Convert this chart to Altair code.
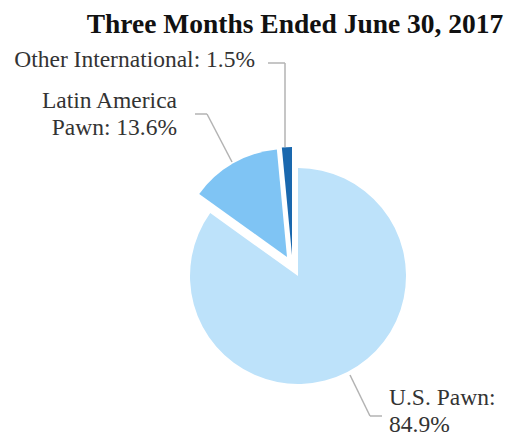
import math
import altair as alt
import pandas as pd

# ---- data ----
categories = ["U.S. Pawn", "Latin America Pawn", "Other International"]
label_names = ["U.S. Pawn", "Latin America\nPawn", "Other International"]
values = [84.9, 13.6, 1.5]
title_text = "Three Months Ended June 30, 2017"

# ---- style ----
colors = ["#BDE2FA", "#7FC4F4", "#1A68AE"]
label_sep = ["\n", " ", " "]
CX, CY, R = 290, 268, 108
explode = {"U.S. Pawn": (0, 0), "Latin America Pawn": (-11, -19), "Other International": (-6, -21)}
label_pos = {
    "U.S. Pawn": (381, 397, "left"),
    "Latin America Pawn": (169, 100, "right"),
    "Other International": (247, 59, "right"),
}
leaders = [
    (260, 55, 277, 55), (277, 55, 277, 139),
    (187, 106, 199, 106), (199, 106, 224, 154),
    (342, 367, 362, 408), (362, 408, 374, 408),
]
FONT = "Times New Roman, Liberation Serif, serif"

df = pd.DataFrame({
    "category": categories,
    "value": values,
    "order": list(range(len(categories))),
    "label": [f"{n}:{s}{v}%" for n, v, s in zip(label_names, values, label_sep)],
})

base = alt.Chart(df).transform_stack(
    stack="value", groupby=[], as_=["v0", "v1"], sort=[alt.SortField("order")]
)
theta_scale = alt.Scale(domain=[0, 100], range=[0, 2 * math.pi])
color_scale = alt.Scale(domain=categories, range=colors)

layers = []
for cat in categories:
    dx, dy = explode[cat]
    layers.append(
        base.transform_filter(alt.datum.category == cat)
        .mark_arc(radius=R)
        .encode(
            theta=alt.Theta("v0:Q", scale=theta_scale),
            theta2="v1:Q",
            color=alt.Color("category:N", scale=color_scale, legend=None),
            x=alt.value(CX + dx),
            y=alt.value(CY + dy),
        )
    )

for cat in categories:
    lx, ly, al = label_pos[cat]
    layers.append(
        alt.Chart(df).transform_filter(alt.datum.category == cat)
        .mark_text(font=FONT, fontSize=23.5, align=al, baseline="alphabetic",
                   lineBreak="\n", lineHeight=27, color="#333333")
        .encode(text="label:N", x=alt.value(lx), y=alt.value(ly))
    )

for (x1, y1, x2, y2) in leaders:
    layers.append(
        alt.Chart(df).transform_filter(alt.datum.order == 0)
        .mark_rule(color="#b3b3b3", strokeWidth=1.5)
        .encode(x=alt.value(x1), y=alt.value(y1), x2=alt.value(x2), y2=alt.value(y2))
    )

layers.append(
    alt.Chart(pd.DataFrame({"t": [title_text]}))
    .mark_text(font=FONT, fontSize=27.5, fontWeight="bold", align="center",
               baseline="alphabetic", color="#111111")
    .encode(text="t:N", x=alt.value(287), y=alt.value(25))
)

chart = alt.layer(*layers).properties(
    width=497, height=428, autosize=alt.AutoSizeParams(type="none"), padding=0
).configure_view(stroke=None)

chart.save("out.html", embed_options={"renderer": "svg", "actions": False})
